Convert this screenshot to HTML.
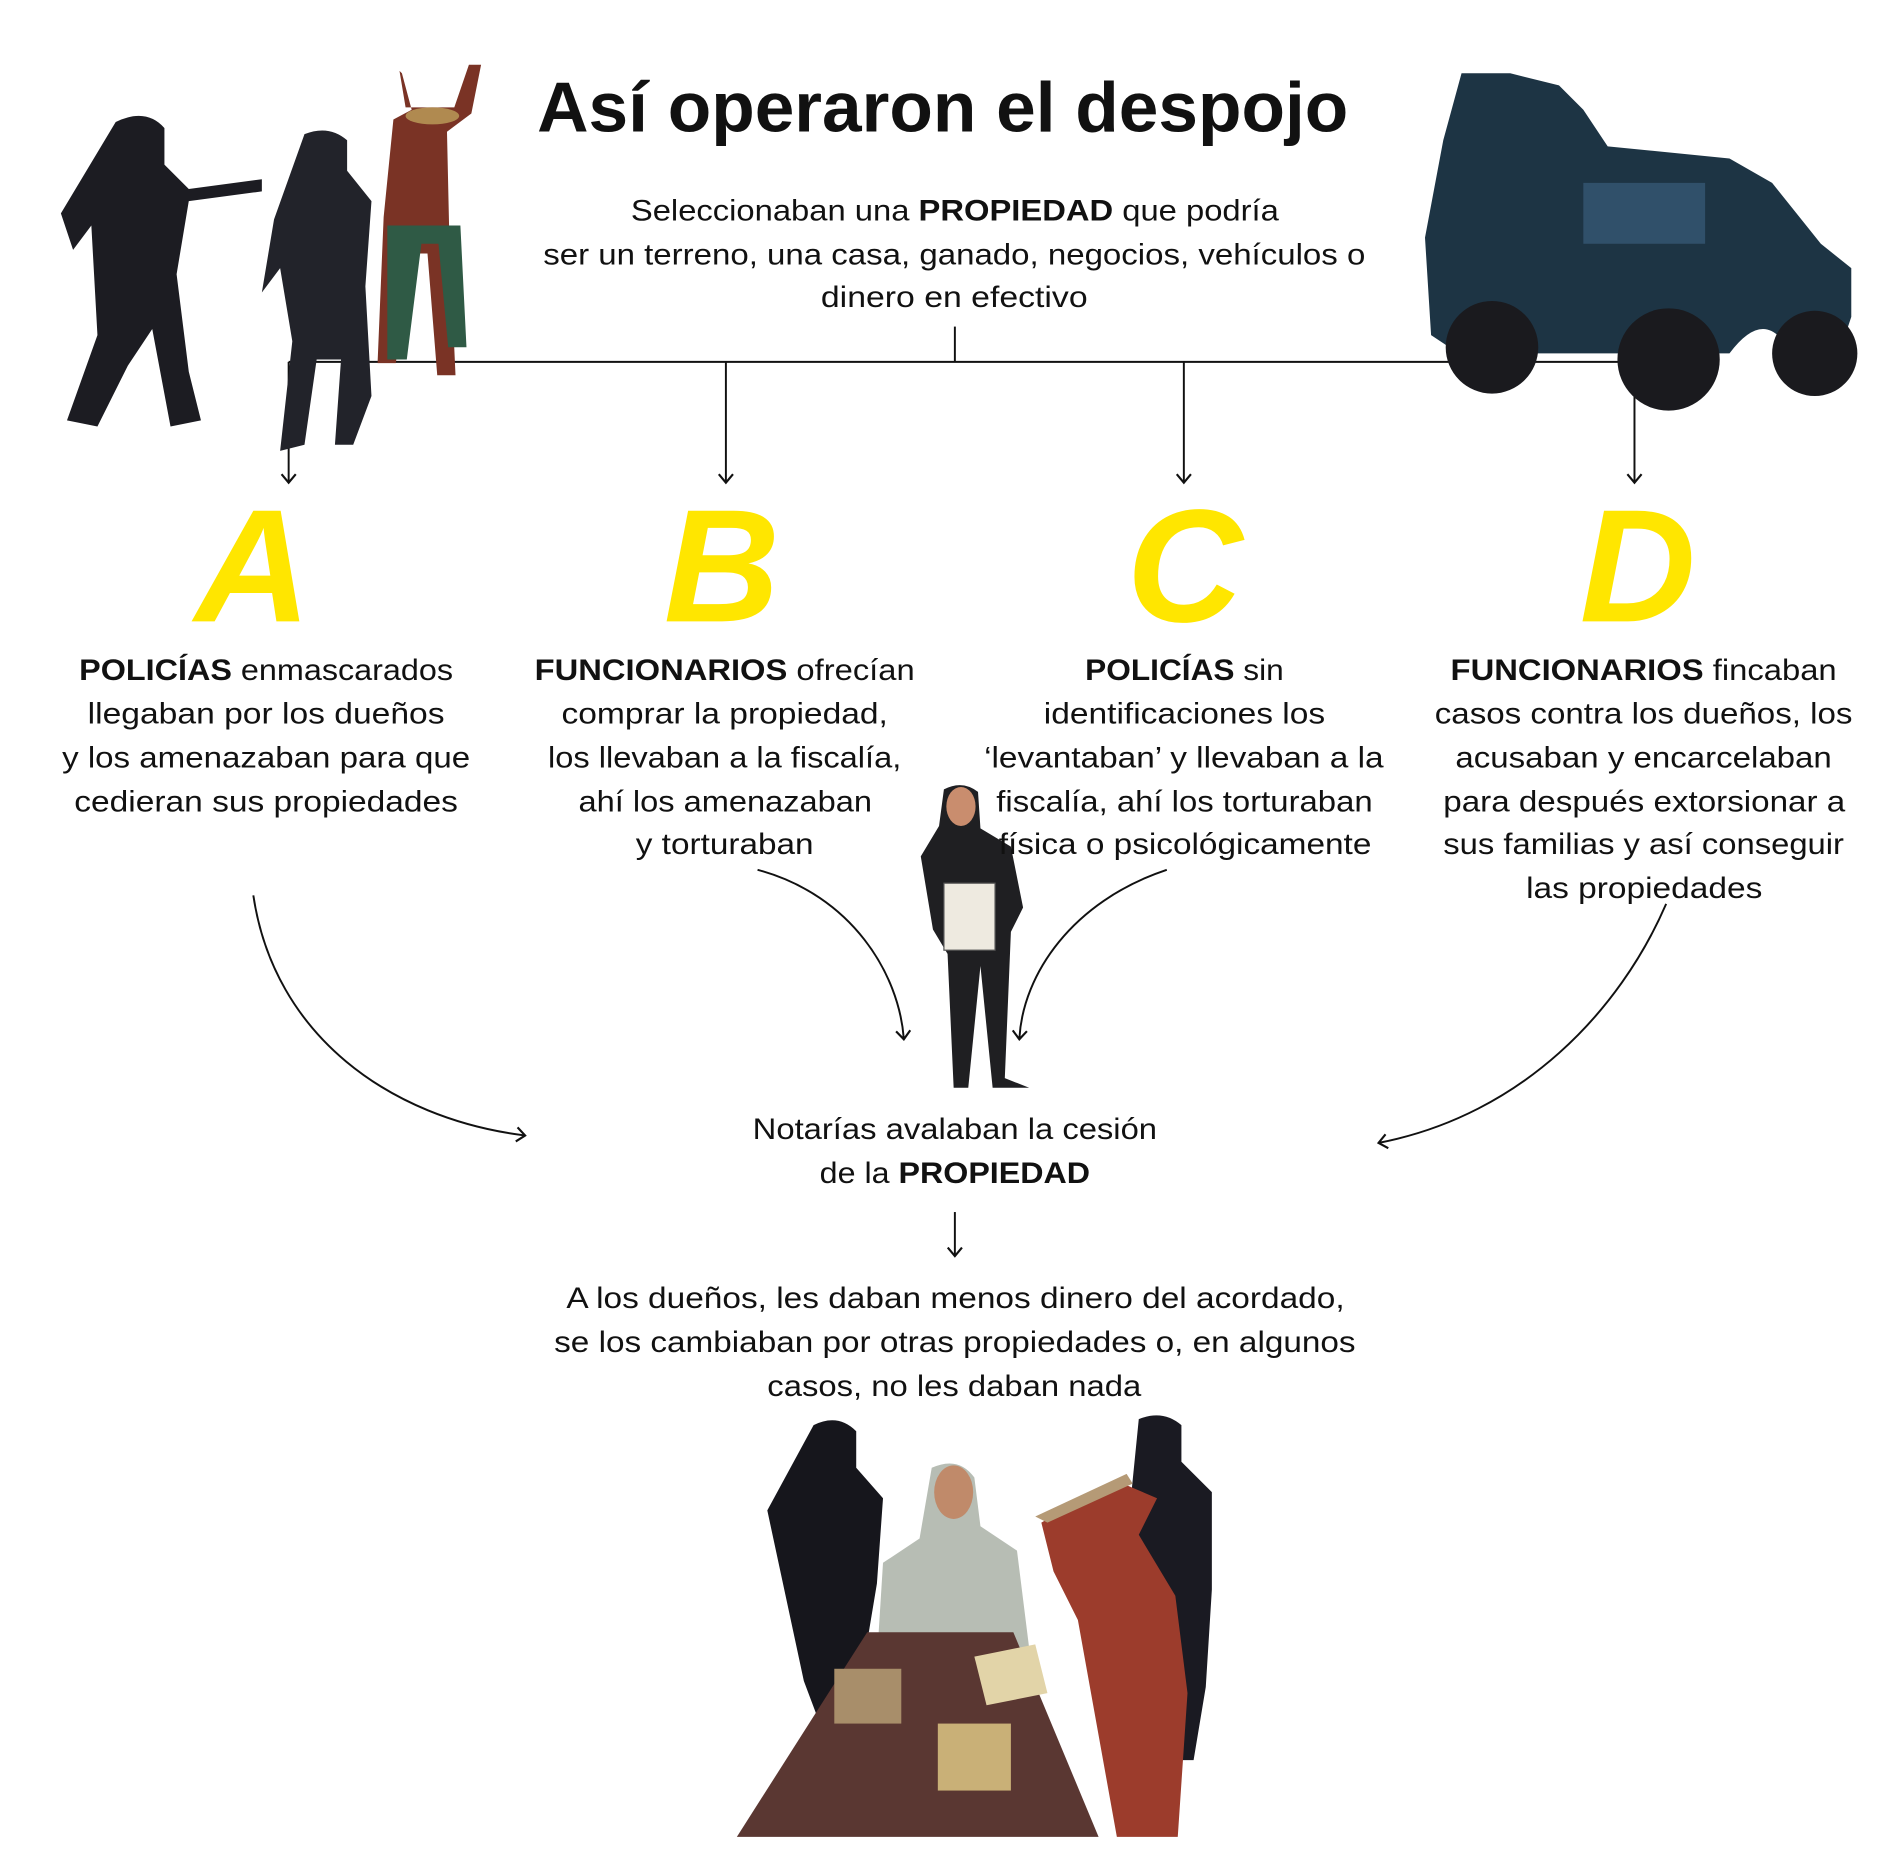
<!DOCTYPE html>
<html><head><meta charset="utf-8"><style>
html,body{margin:0;padding:0;background:#fff;}
svg{display:block;}
text{font-family:"Liberation Sans",sans-serif;fill:#111;}
.t{font-size:24px;}
b,.b{font-weight:bold;}
.L{font-family:"Liberation Sans",sans-serif;font-weight:bold;font-style:italic;font-size:132px;fill:#FFE600;}
</style></head><body>
<svg width="1900" height="1876" viewBox="0 0 1560 1540" xmlns="http://www.w3.org/2000/svg">
<defs>
<marker id="ah" viewBox="0 0 12 12" refX="6" refY="6" markerWidth="14" markerHeight="14" markerUnits="userSpaceOnUse" orient="auto">
<path d="M1 1 L7 6 L1 11" fill="none" stroke="#111" stroke-width="1.5"/>
</marker>
</defs>
<g stroke="#111" stroke-width="1.6" fill="none">
<line x1="237" y1="297" x2="1342" y2="297"/>
<line x1="784" y1="268" x2="784" y2="297"/>
<line x1="237" y1="297" x2="237" y2="395" marker-end="url(#ah)"/>
<line x1="596" y1="297" x2="596" y2="395" marker-end="url(#ah)"/>
<line x1="972" y1="297" x2="972" y2="395" marker-end="url(#ah)"/>
<line x1="1342" y1="297" x2="1342" y2="395" marker-end="url(#ah)"/>
<line x1="784" y1="995" x2="784" y2="1030" marker-end="url(#ah)"/>
<path d="M208 735 C225 850 320 918 430 932" marker-end="url(#ah)"/>
<path d="M622 714 C700 735 738 800 742 852" marker-end="url(#ah)"/>
<path d="M958 714 C880 740 840 800 837 852" marker-end="url(#ah)"/>
<path d="M1368 742 C1330 830 1250 915 1133 938" marker-end="url(#ah)"/>
</g>

<!-- left soldiers + cowboy -->
<g>
<path d="M330 60 l8 30 l-15 8 l-8 80 l-5 120 l15 0 l12 -90 l14 0 l8 100 l15 0 l-5 -110 l-2 -90 l20 -15 l8 -40 l-10 0 l-12 35 l-40 0 l-5 -30z" fill="#7a3325"/>
<path d="M318 185 l60 0 l5 100 l-15 0 l-8 -85 l-14 0 l-12 95 l-16 0z" fill="#2f5a45"/>
<ellipse cx="355" cy="95" rx="22" ry="7" fill="#b08a50"/>
<path d="M95 100 q25 -12 40 5 l0 30 l20 20 l60 -8 l0 10 l-60 8 l-10 60 l10 80 l10 40 l-25 5 l-15 -80 l-20 30 l-25 50 l-25 -5 l25 -70 l-5 -90 l-15 20 l-10 -30 z" fill="#1c1c22"/>
<path d="M250 110 q20 -8 35 5 l0 25 l20 25 l-5 70 l5 90 l-15 40 l-15 0 l5 -70 l-20 0 l-10 70 l-20 5 l10 -90 l-10 -60 l-15 20 l10 -60 z" fill="#22232a"/>
</g>

<!-- truck -->
<g>
<path d="M1200 60 l40 0 l40 10 l20 20 l20 30 l100 10 l35 20 l40 50 l25 20 l0 40 l-10 30 l-40 0 q-20 -40 -50 0 l-160 0 q-30 -45 -70 -5 l-15 -10 l-5 -80 l15 -80 z" fill="#1d3444"/>
<circle cx="1225" cy="285" r="38" fill="#1a1a1e"/>
<circle cx="1370" cy="295" r="42" fill="#1a1a1e"/>
<circle cx="1490" cy="290" r="35" fill="#1a1a1e"/>
<rect x="1300" y="150" width="100" height="50" fill="#30506a"/>
</g>

<!-- notary man -->
<g>
<path d="M775 648 q15 -8 28 2 l2 30 l25 15 l10 50 l-10 20 l-5 120 l20 8 l-30 0 l-10 -100 l-10 100 l-12 0 l-5 -110 l-12 -20 l-10 -60 l15 -25 z" fill="#1f1f22"/>
<rect x="775" y="725" width="42" height="55" fill="#eeeae0" stroke="#555"/>
<ellipse cx="789" cy="662" rx="12" ry="16" fill="#c98d6e"/>
</g>

<!-- bottom scene -->
<g>
<path d="M668 1170 q20 -10 35 5 l0 30 l22 25 l-5 70 l-10 60 l-10 80 l-15 60 l-15 0 l5 -80 l-15 -40 l-30 -140 z" fill="#16161c"/>
<path d="M935 1165 q20 -8 35 5 l0 30 l25 25 l0 80 l-5 80 l-10 60 l-15 0 l-10 -60 l-30 -120 z" fill="#1a1a22"/>
<path d="M765 1205 q22 -10 35 8 l5 40 l30 20 l10 80 l-20 40 l-90 0 l-15 -30 l5 -80 l30 -20 z" fill="#b7bdb4"/>
<ellipse cx="783" cy="1225" rx="16" ry="22" fill="#c08a6a"/>
<path d="M855 1250 l60 -35 l35 15 l-15 30 l30 50 l10 80 l-8 118 l-50 0 l-32 -178 l-20 -40 z" fill="#9c3c2c"/>
<path d="M850 1245 l75 -35 l5 8 l-70 32z" fill="#b59a76"/>
<path d="M712 1340 l120 0 l70 168 l-297 0 z" fill="#5a3732"/>
<rect x="770" y="1415" width="60" height="55" fill="#c9b077"/>
<rect x="685" y="1370" width="55" height="45" fill="#a88e6a"/>
<path d="M800 1360 l50 -10 l10 40 l-50 10z" fill="#e2d4a8"/>
</g>

<!-- title -->
<text x="441" y="108" class="b" font-size="58" textLength="666" lengthAdjust="spacingAndGlyphs">Así operaron el despojo</text>

<g class="t" text-anchor="start">
<text x="518" y="181" class="t" textLength="532" lengthAdjust="spacingAndGlyphs">Seleccionaban una <tspan class="b">PROPIEDAD</tspan> que podría</text>
<text x="446" y="217" class="t" textLength="675" lengthAdjust="spacingAndGlyphs">ser un terreno, una casa, ganado, negocios, vehículos o</text>
<text x="674" y="252" class="t" textLength="219" lengthAdjust="spacingAndGlyphs">dinero en efectivo</text>

<text x="160" y="510" class="L">A</text>
<text x="545" y="510" class="L">B</text>
<text x="925" y="510" class="L">C</text>
<text x="1297" y="510" class="L">D</text>

<text x="65" y="558" class="t" textLength="307" lengthAdjust="spacingAndGlyphs"><tspan class="b">POLICÍAS</tspan> enmascarados</text>
<text x="72" y="594" class="t" textLength="293" lengthAdjust="spacingAndGlyphs">llegaban por los dueños</text>
<text x="51" y="630" class="t" textLength="335" lengthAdjust="spacingAndGlyphs">y los amenazaban para que</text>
<text x="61" y="666" class="t" textLength="315" lengthAdjust="spacingAndGlyphs">cedieran sus propiedades</text>

<text x="439" y="558" class="t" textLength="312" lengthAdjust="spacingAndGlyphs"><tspan class="b">FUNCIONARIOS</tspan> ofrecían</text>
<text x="461" y="594" class="t" textLength="268" lengthAdjust="spacingAndGlyphs">comprar la propiedad,</text>
<text x="450" y="630" class="t" textLength="290" lengthAdjust="spacingAndGlyphs">los llevaban a la fiscalía,</text>
<text x="475" y="666" class="t" textLength="241" lengthAdjust="spacingAndGlyphs">ahí los amenazaban</text>
<text x="522" y="701" class="t" textLength="146" lengthAdjust="spacingAndGlyphs">y torturaban</text>

<text x="891" y="558" class="t" textLength="163" lengthAdjust="spacingAndGlyphs"><tspan class="b">POLICÍAS</tspan> sin</text>
<text x="857" y="594" class="t" textLength="231" lengthAdjust="spacingAndGlyphs">identificaciones los</text>
<text x="808" y="630" class="t" textLength="328" lengthAdjust="spacingAndGlyphs">‘levantaban’ y llevaban a la</text>
<text x="818" y="666" class="t" textLength="309" lengthAdjust="spacingAndGlyphs">fiscalía, ahí los torturaban</text>
<text x="820" y="701" class="t" textLength="306" lengthAdjust="spacingAndGlyphs">física o psicológicamente</text>

<text x="1191" y="558" class="t" textLength="317" lengthAdjust="spacingAndGlyphs"><tspan class="b">FUNCIONARIOS</tspan> fincaban</text>
<text x="1178" y="594" class="t" textLength="343" lengthAdjust="spacingAndGlyphs">casos contra los dueños, los</text>
<text x="1195" y="630" class="t" textLength="309" lengthAdjust="spacingAndGlyphs">acusaban y encarcelaban</text>
<text x="1185" y="666" class="t" textLength="330" lengthAdjust="spacingAndGlyphs">para después extorsionar a</text>
<text x="1185" y="701" class="t" textLength="329" lengthAdjust="spacingAndGlyphs">sus familias y así conseguir</text>
<text x="1253" y="737" class="t" textLength="194" lengthAdjust="spacingAndGlyphs">las propiedades</text>

<text x="618" y="935" class="t" textLength="332" lengthAdjust="spacingAndGlyphs">Notarías avalaban la cesión</text>
<text x="673" y="971" class="t" textLength="222" lengthAdjust="spacingAndGlyphs">de la <tspan class="b">PROPIEDAD</tspan></text>

<text x="465" y="1074" class="t" textLength="639" lengthAdjust="spacingAndGlyphs">A los dueños, les daban menos dinero del acordado,</text>
<text x="455" y="1110" class="t" textLength="658" lengthAdjust="spacingAndGlyphs">se los cambiaban por otras propiedades o, en algunos</text>
<text x="630" y="1146" class="t" textLength="307" lengthAdjust="spacingAndGlyphs">casos, no les daban nada</text>
</g>
</svg>
</body></html>
